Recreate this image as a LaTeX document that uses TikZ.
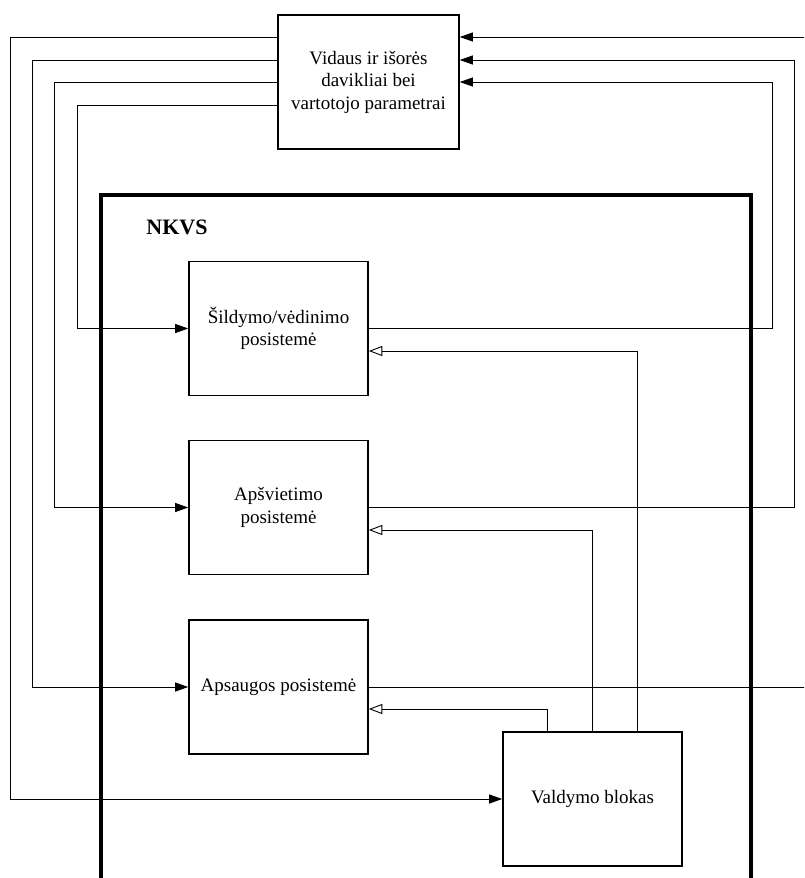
\documentclass[tikz,border=0pt]{standalone}
\usepackage{fontspec}
\setmainfont{Liberation Serif}
\usetikzlibrary{arrows.meta}
\begin{document}
\begin{tikzpicture}[x=1pt,y=-1pt,
  blk/.style={draw, line width=1.6pt, minimum width=179pt, minimum height=134pt,
    align=center, inner sep=0pt, font=\fontsize{19}{22.5}\selectfont},
  frame/.style={draw, line width=3.5pt, inner sep=0pt, anchor=north west},
  conn/.style={line width=0.9pt, -{Triangle[length=13pt,width=9pt]}},
  feed/.style={line width=0.9pt, -{Triangle[open,length=13.5pt,width=10pt,fill=white]}}]
\useasboundingbox (0,0) rectangle (804,878);
\fill[white] (0,0) rectangle (804,878);
\clip (0,0) rectangle (804,878);

% system frame and its title
\node[frame, minimum width=650pt, minimum height=720pt] (nkvs) at (99,193) {};
\node[font=\bfseries\fontsize{22}{26}\selectfont] (title) at (177,227) {NKVS};

% blocks
\node[blk, minimum width=181pt] (sens) at (368.5,82) {Vidaus ir išorės\\davikliai bei\\vartotojo parametrai};
\node[blk] (sild) at (278.5,328.5) {Šildymo/vėdinimo\\posistemė};
\node[blk] (apsv) at (278.5,507.5) {Apšvietimo\\posistemė};
\node[blk] (apsg) at (278.5,687) {Apsaugos posistemė};
\node[blk] (vald) at (592.5,799) {Valdymo blokas};

% sensor data to the subsystems and the control unit
\coordinate (c1) at (10,0);
\coordinate (c2) at (32,0);
\coordinate (c3) at (54,0);
\coordinate (c4) at (77,0);
\draw[conn] (sens.west |- 0,37) -| (c1 |- vald.west) -- (vald.west);
\draw[conn] (sens.west |- 0,60) -| (c2 |- apsg.west) -- (apsg.west);
\draw[conn] (sens.west |- 0,82) -| (c3 |- apsv.west) -- (apsv.west);
\draw[conn] (sens.west |- 0,105) -| (c4 |- sild.west) -- (sild.west);

% subsystem states back to the sensor block
\coordinate (r1) at (807,0);
\coordinate (r2) at (794,0);
\coordinate (r3) at (772,0);
\draw[conn] (sild.east) -| (r3 |- sens.east) -- (sens.east);
\draw[conn] (apsv.east) -| (r2 |- 0,60) -- (sens.east |- 0,60);
\draw[conn] (apsg.east) -| (r1 |- 0,37) -- (sens.east |- 0,37);

% commands from the control unit
\draw[feed] (vald.north -| 637,0) |- (sild.east |- 0,351);
\draw[feed] (vald.north -| 592,0) |- (apsv.east |- 0,530);
\draw[feed] (vald.north -| 547,0) |- (apsg.east |- 0,709);
\end{tikzpicture}
\end{document}
